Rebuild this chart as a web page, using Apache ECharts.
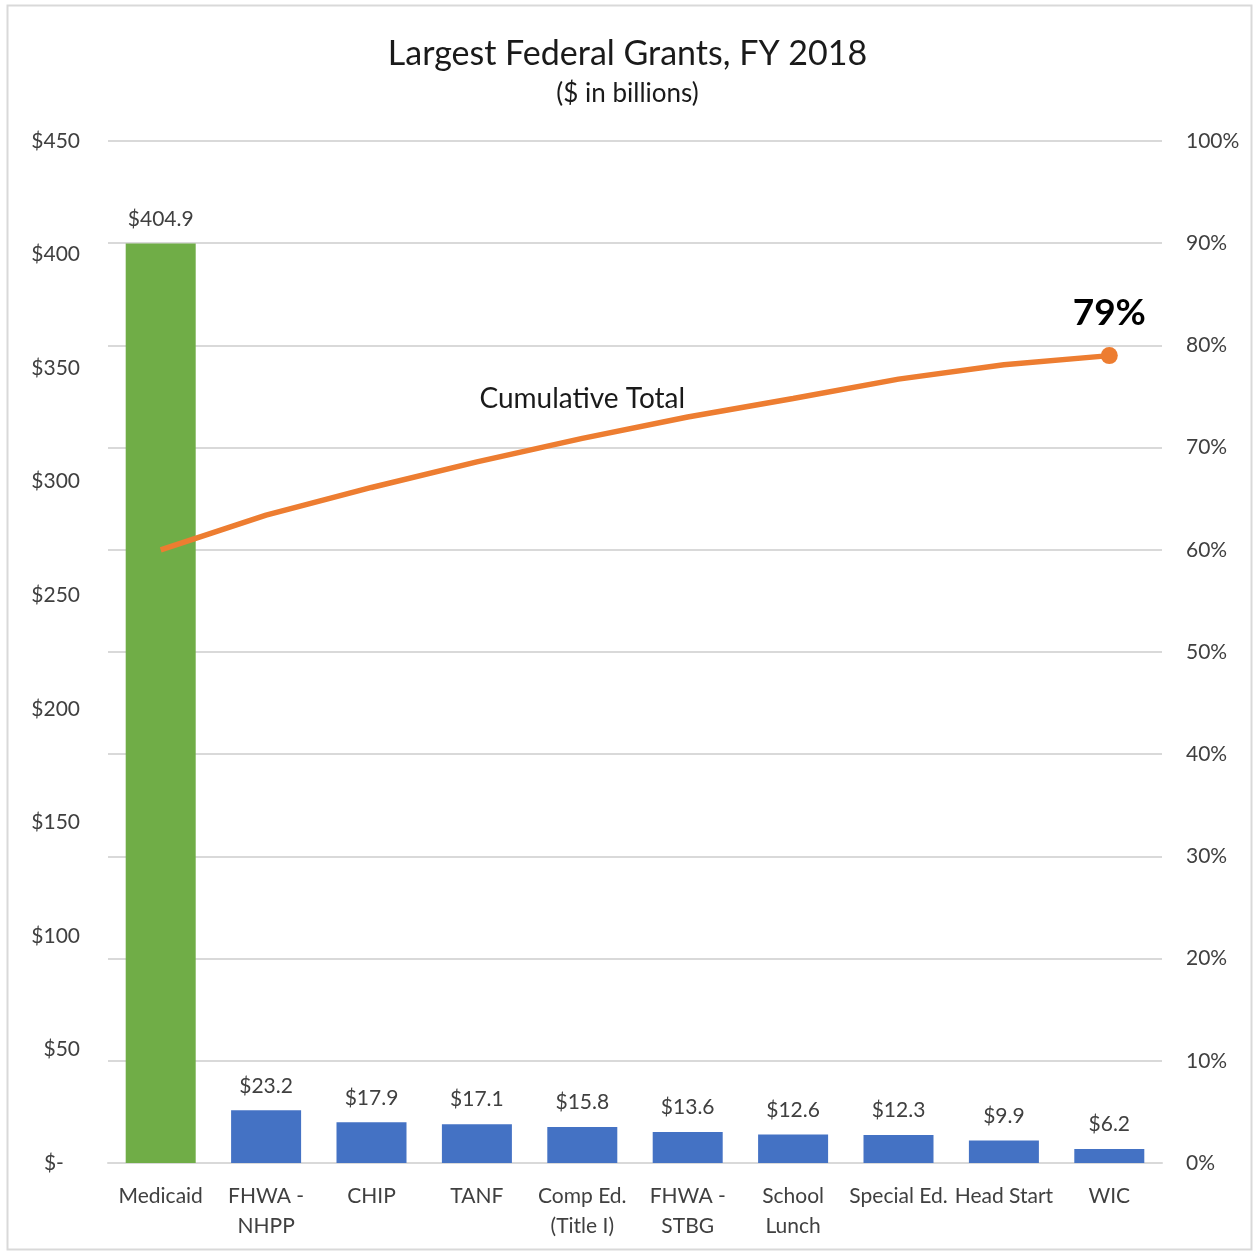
<!DOCTYPE html>
<html>
<head>
<meta charset="utf-8">
<title>Largest Federal Grants, FY 2018</title>
<script src="https://cdn.jsdelivr.net/npm/echarts@6/dist/echarts.min.js"></script>
<style>
  html, body { margin: 0; padding: 0; background: #ffffff; }
  #chart { width: 1255px; height: 1251px; }
</style>
</head>
<body>
<div id="chart"></div>
<script>
// Grant programs, FY 2018
const categories = ['Medicaid', 'FHWA -\nNHPP', 'CHIP', 'TANF', 'Comp Ed.\n(Title I)', 'FHWA -\nSTBG', 'School\nLunch', 'Special Ed.', 'Head Start', 'WIC'];
// Grant amounts, $ billions
const grantAmounts = [404.9, 23.2, 17.9, 17.1, 15.8, 13.6, 12.6, 12.3, 9.9, 6.2];
// Cumulative share of all federal grants, %
const cumulativeShare = [60.0, 63.4, 66.1, 68.6, 70.9, 73.0, 74.8, 76.7, 78.1, 79.0];
// Axis ticks
const dollarTicks = [0, 50, 100, 150, 200, 250, 300, 350, 400, 450];
const percentTicks = [0, 10, 20, 30, 40, 50, 60, 70, 80, 90, 100];

const FONT = 'Lato, "Open Sans", "Noto Sans", sans-serif';
const GREEN = '#70ad47';
const BLUE = '#4472c4';
const ORANGE = '#ed7d31';
const TEXT = '#404040';

const chart = echarts.init(document.getElementById('chart'), null, { renderer: 'canvas' });

const barData = grantAmounts.map((v, i) => ({
  value: v,
  itemStyle: { color: i === 0 ? GREEN : BLUE }
}));

const lastIdx = cumulativeShare.length - 1;
const lineData = cumulativeShare.map((v, i) => {
  const item = { value: v };
  if (i === 4) {
    // series name placed above the Comp Ed. point
    item.label = {
      show: true, position: 'top', distance: 25,
      formatter: 'Cumulative Total',
      fontSize: 28, color: '#1a1a1a', fontFamily: FONT
    };
  }
  if (i === lastIdx) {
    item.symbolSize = 17;
    item.label = {
      show: true, position: 'top', distance: 16,
      formatter: Math.round(v) + '%',
      fontSize: 37, fontWeight: 'bold', color: '#000000', fontFamily: FONT
    };
  }
  return item;
});

chart.setOption({
  backgroundColor: '#ffffff',
  animation: false,
  textStyle: { fontFamily: FONT },
  title: [
    {
      text: 'Largest Federal Grants, FY 2018',
      left: 'center', top: 32,
      textStyle: { fontSize: 34, fontWeight: 'normal', color: '#1a1a1a', fontFamily: FONT }
    },
    {
      text: '($ in billions)',
      left: 'center', top: 76,
      textStyle: { fontSize: 26, fontWeight: 'normal', color: '#1a1a1a', fontFamily: FONT }
    }
  ],
  graphic: [{
    type: 'rect',
    silent: true,
    shape: { x: 7.5, y: 5.5, width: 1244, height: 1244 },
    style: { fill: 'none', stroke: '#d9d9d9', lineWidth: 2 }
  }],
  grid: { left: 108, right: 93, top: 141, bottom: 88, containLabel: false },
  xAxis: {
    type: 'category',
    data: categories,
    axisLine: { show: true, lineStyle: { color: '#d9d9d9', width: 2 } },
    axisTick: { show: false },
    axisLabel: {
      interval: 0, margin: 18, fontSize: 21, lineHeight: 30,
      color: TEXT, fontFamily: FONT
    }
  },
  yAxis: [
    {
      type: 'value',
      min: dollarTicks[0], max: dollarTicks[dollarTicks.length - 1], interval: 50,
      position: 'left',
      axisLine: { show: false }, axisTick: { show: false },
      splitLine: { show: false },
      axisLabel: {
        margin: 28, fontSize: 21, color: TEXT, fontFamily: FONT,
        formatter: v => (v === 0 ? '$-   ' : '$' + v)
      }
    },
    {
      type: 'value',
      min: percentTicks[0], max: percentTicks[percentTicks.length - 1], interval: 10,
      position: 'right',
      axisLine: { show: false }, axisTick: { show: false },
      splitLine: { show: true, lineStyle: { color: '#d9d9d9', width: 2 } },
      axisLabel: {
        margin: 24, fontSize: 21, color: TEXT, fontFamily: FONT,
        formatter: '{value}%'
      }
    }
  ],
  series: [
    {
      type: 'bar',
      yAxisIndex: 0,
      data: barData,
      barWidth: 70,
      label: {
        show: true, position: 'top', distance: 14,
        fontSize: 21, color: TEXT, fontFamily: FONT,
        formatter: p => '$' + p.value.toFixed(1)
      },
      z: 2
    },
    {
      type: 'line',
      yAxisIndex: 1,
      data: lineData,
      symbol: 'circle',
      symbolSize: 0.01,
      showSymbol: true,
      showAllSymbol: true,
      lineStyle: { color: ORANGE, width: 5.5 },
      itemStyle: { color: ORANGE },
      z: 3
    }
  ]
});
</script>
</body>
</html>
